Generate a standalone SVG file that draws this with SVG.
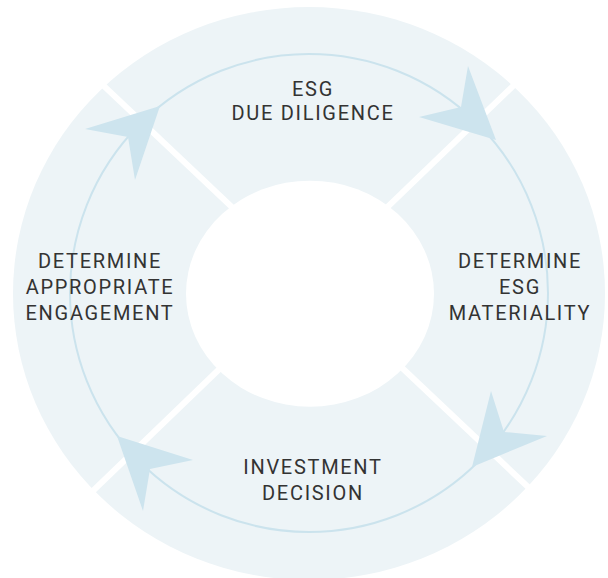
<svg xmlns="http://www.w3.org/2000/svg" width="608" height="578" viewBox="0 0 608 578">
<style>
.ring{fill:#edf4f7}
.hole{fill:#ffffff}
.div{stroke:#ffffff;stroke-width:6;fill:none}
.cycle{fill:none;stroke:#cbe3ed;stroke-width:2}
.head{fill:#cde4ee}
.lbl{font-family:Roboto,"Liberation Sans",Arial,sans-serif;font-size:20px;fill:#333333;letter-spacing:1.7px;text-anchor:middle}
</style>
<rect width="608" height="578" fill="#ffffff"/>
<g id="ring">
<ellipse class="ring" cx="309" cy="293.5" rx="296" ry="286.5"/>
<line class="div" x1="80" y1="63.4" x2="550" y2="507.8"/>
<line class="div" x1="540" y1="60" x2="70" y2="513"/>
<ellipse class="hole" cx="310" cy="293.7" rx="124" ry="113"/>
</g>
<g id="connectors">
<circle class="cycle" cx="309" cy="293" r="239"/>
<polygon class="head" points="160,106 85,129 128,137 135,180"/>
<polygon class="head" points="496,140 468,66 461,107 419,117"/>
<polygon class="head" points="472,467 491,391 504,432 547,436"/>
<polygon class="head" points="117,436 193,460 150,469 143,511"/>
</g>
<g id="node-due-diligence">
<text class="lbl" x="313" y="96">ESG</text>
<text class="lbl" x="313" y="120">DUE DILIGENCE</text>
</g>
<g id="node-materiality">
<text class="lbl" x="520" y="268">DETERMINE</text>
<text class="lbl" x="520" y="294">ESG</text>
<text class="lbl" x="520" y="320">MATERIALITY</text>
</g>
<g id="node-investment-decision">
<text class="lbl" x="313" y="474">INVESTMENT</text>
<text class="lbl" x="313" y="500">DECISION</text>
</g>
<g id="node-engagement">
<text class="lbl" x="100" y="268">DETERMINE</text>
<text class="lbl" x="100" y="294">APPROPRIATE</text>
<text class="lbl" x="100" y="320">ENGAGEMENT</text>
</g>
</svg>
